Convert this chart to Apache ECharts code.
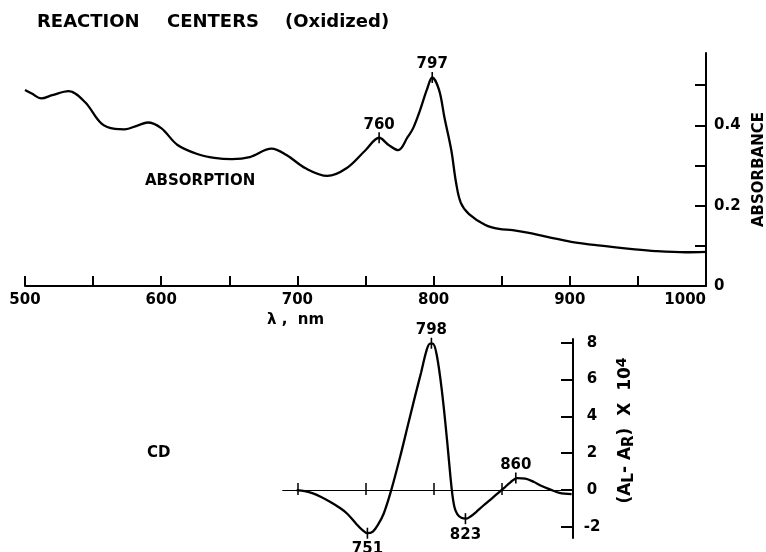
<!DOCTYPE html>
<html><head><meta charset="utf-8">
<script src="https://cdn.jsdelivr.net/npm/echarts@6/dist/echarts.min.js"></script>
<style>html,body{margin:0;padding:0;background:#fff}#c{width:766px;height:552px}</style>
</head><body><div id="c"></div>
<script>
// ---- Absorption spectrum (top panel) ----
const absLambda = [500, 505, 512, 520, 532, 544, 556, 566, 573, 583, 590, 600, 612, 627, 639, 652, 665, 681, 692, 706, 722, 736, 750, 760, 767, 774, 781, 785, 790, 795, 799, 804, 808, 813, 816.5, 820, 826, 838, 848, 858, 872, 885, 901, 921, 946, 963, 985, 1000];
const absValue  = [0.488, 0.479, 0.467, 0.475, 0.485, 0.458, 0.405, 0.391, 0.390, 0.400, 0.407, 0.393, 0.351, 0.328, 0.319, 0.316, 0.321, 0.342, 0.326, 0.293, 0.274, 0.293, 0.338, 0.369, 0.351, 0.338, 0.371, 0.393, 0.437, 0.488, 0.519, 0.488, 0.419, 0.338, 0.257, 0.207, 0.179, 0.152, 0.142, 0.139, 0.131, 0.121, 0.110, 0.101, 0.092, 0.087, 0.084, 0.085];
const absPeakLambda = [760, 799];
const absPeakValue  = [0.369, 0.519];
const absPeakLabel  = ['760', '797'];
const absXTicks  = [500, 550, 600, 650, 700, 750, 800, 850, 900, 950, 1000];
const absXLabels = [500, 600, 700, 800, 900, 1000];
const absYTicks  = [0.1, 0.2, 0.3, 0.4, 0.5];
const absYLabels = [0, 0.2, 0.4];

// ---- CD spectrum (bottom panel) ----
const cdLambda = [699, 705, 711, 717, 723.5, 730, 736, 743, 747, 751, 755, 759, 763, 768.5, 775, 781, 786, 790.5, 794.5, 797, 799, 802, 806, 809.5, 813, 815, 817, 820, 823.5, 827, 831, 836, 841, 846, 851, 856, 861, 867, 873, 879, 885, 892, 901];
const cdValue  = [0, -0.06, -0.18, -0.37, -0.63, -0.93, -1.27, -1.85, -2.15, -2.34, -2.25, -1.85, -1.27, 0, 1.8, 3.6, 5.1, 6.4, 7.6, 7.95, 7.95, 7.3, 5.2, 2.7, 0, -0.95, -1.3, -1.5, -1.55, -1.42, -1.18, -0.85, -0.54, -0.22, 0.09, 0.42, 0.65, 0.62, 0.45, 0.22, 0.04, -0.15, -0.22];
const cdPeakLambda = [751, 798, 823, 860];
const cdPeakValue  = [-2.34, 7.97, -1.55, 0.65];
const cdPeakLabel  = ['751', '798', '823', '860'];
const cdPeakSide   = ['bottom', 'top', 'bottom', 'top'];
const cdXTicks = [700, 750, 800, 850];
const cdYTicks = [-2, 0, 2, 4, 6, 8];

const FF = 'DejaVu Sans';
const INK = '#000';
const lblStyle = {fontFamily: FF, fontWeight: 'bold', fontSize: 15, color: INK};

const chart = echarts.init(document.getElementById('c'), null, {renderer: 'canvas'});

const absData = absLambda.map((x, i) => [x, absValue[i]]);
const cdData = cdLambda.map((x, i) => [x, cdValue[i]]);
const absPeaks = absPeakLambda.map((x, i) => ({value: [x, absPeakValue[i]], label: {formatter: absPeakLabel[i], position: 'top', distance: 0}}));
const cdPeaks = cdPeakLambda.map((x, i) => ({value: [x, cdPeakValue[i]], label: {formatter: cdPeakLabel[i], position: cdPeakSide[i], distance: cdPeakSide[i] === 'top' ? 0 : 3}}));

const option = {
  animation: false,
  backgroundColor: '#fff',
  textStyle: {fontFamily: FF, fontWeight: 'bold', color: INK},
  grid: [
    {left: 25, top: 53, width: 681, height: 233, containLabel: false, outerBoundsMode: 'none'},
    {left: 283, top: 339, width: 290, height: 199, containLabel: false, outerBoundsMode: 'none'}
  ],
  xAxis: [
    {gridIndex: 0, type: 'value', min: 500, max: 1000, interval: 50, position: 'bottom',
     axisLine: {onZero: false, lineStyle: {color: INK, width: 2}},
     axisTick: {inside: true, length: 10, customValues: absXTicks, lineStyle: {color: INK, width: 2}},
     axisLabel: Object.assign({customValues: absXLabels, margin: 7, alignMaxLabel: 'right', formatter: v => String(v)}, lblStyle),
     splitLine: {show: false}},
    {gridIndex: 1, type: 'value', min: 689, max: 902, position: 'bottom',
     axisLine: {onZero: true, onZeroAxisIndex: 1, lineStyle: {color: INK, width: 1.2}},
     axisTick: {inside: true, length: 7, customValues: cdXTicks, lineStyle: {color: INK, width: 1.5}},
     axisLabel: {show: false}, splitLine: {show: false}},
    {gridIndex: 1, type: 'value', min: 689, max: 902, position: 'bottom',
     axisLine: {show: true, onZero: true, onZeroAxisIndex: 2, lineStyle: {color: INK, width: 1.2}},
     axisTick: {inside: false, length: 5, customValues: cdXTicks, lineStyle: {color: INK, width: 1.5}},
     axisLabel: {show: false}, splitLine: {show: false}}
  ],
  yAxis: [
    {gridIndex: 0, type: 'value', position: 'right', min: 0, max: 0.58,
     axisLine: {show: true, onZero: false, lineStyle: {color: INK, width: 2}},
     axisTick: {show: true, inside: true, length: 11, customValues: absYTicks, lineStyle: {color: INK, width: 2}},
     axisLabel: Object.assign({customValues: absYLabels, margin: 8, formatter: v => v === 0 ? '0' : v.toFixed(1)}, lblStyle),
     splitLine: {show: false},
     name: 'ABSORBANCE', nameLocation: 'middle', nameRotate: 90, nameGap: 45,
     nameTextStyle: lblStyle},
    {gridIndex: 1, type: 'value', position: 'right', min: -2.6, max: 8.2,
     axisLine: {show: true, onZero: false, lineStyle: {color: INK, width: 2}},
     axisTick: {show: true, inside: true, length: 12, customValues: cdYTicks, lineStyle: {color: INK, width: 2}},
     axisLabel: Object.assign({customValues: cdYTicks, margin: 19, align: 'center', formatter: v => v < 0 ? '-' + (-v) : String(v)}, lblStyle),
     splitLine: {show: false},
     name: '(A{sub|L}- A{sub|R})  X  10{sup|4}', nameLocation: 'middle', nameRotate: 90, nameGap: 42,
     nameTextStyle: Object.assign({}, lblStyle, {
       fontSize: 17,
       padding: [0, 0, 0, 16],
       rich: {
         sub: {fontFamily: FF, fontWeight: 'bold', fontSize: 15, color: INK, verticalAlign: 'bottom', padding: [5, 0, 0, 0]},
         sup: {fontFamily: FF, fontWeight: 'bold', fontSize: 14, color: INK, verticalAlign: 'top', padding: [0, 0, 8, 0]}
       }
     })},
    {gridIndex: 1, type: 'value', position: 'right', min: -2.6, max: 8.2, show: false}
  ],
  series: [
    {type: 'line', xAxisIndex: 0, yAxisIndex: 0, data: absData, smooth: 0.35, symbol: 'none',
     lineStyle: {color: INK, width: 2.3}},
    {type: 'line', xAxisIndex: 1, yAxisIndex: 1, data: cdData, smooth: 0.35, symbol: 'none',
     lineStyle: {color: INK, width: 2.3}},
    {type: 'scatter', xAxisIndex: 0, yAxisIndex: 0, data: absPeaks, symbol: 'rect', symbolSize: [1.6, 11],
     itemStyle: {color: INK, opacity: 1}, label: Object.assign({show: true, opacity: 1}, lblStyle)},
    {type: 'scatter', xAxisIndex: 1, yAxisIndex: 1, data: cdPeaks, symbol: 'rect', symbolSize: [1.6, 11],
     itemStyle: {color: INK, opacity: 1}, label: Object.assign({show: true, opacity: 1}, lblStyle)}
  ],
  graphic: [
    {type: 'text', x: 37, y: 22, style: {text: 'REACTION', font: 'bold 18px "DejaVu Sans"', fill: INK, textVerticalAlign: 'middle'}},
    {type: 'text', x: 167, y: 22, style: {text: 'CENTERS', font: 'bold 18px "DejaVu Sans"', fill: INK, textVerticalAlign: 'middle'}},
    {type: 'text', x: 285, y: 22, style: {text: '(Oxidized)', font: 'bold 18px "DejaVu Sans"', fill: INK, textVerticalAlign: 'middle'}},
    {type: 'text', x: 145, y: 181, style: {text: 'ABSORPTION', font: 'bold 15px "DejaVu Sans"', fill: INK, textVerticalAlign: 'middle'}},
    {type: 'text', x: 147, y: 453, style: {text: 'CD', font: 'bold 15px "DejaVu Sans"', fill: INK, textVerticalAlign: 'middle'}},
    {type: 'text', x: 267, y: 320, style: {text: 'λ ,  nm', font: 'bold 15px "DejaVu Sans"', fill: INK, textVerticalAlign: 'middle'}}
  ]
};
chart.setOption(option);
</script>
</body></html>
